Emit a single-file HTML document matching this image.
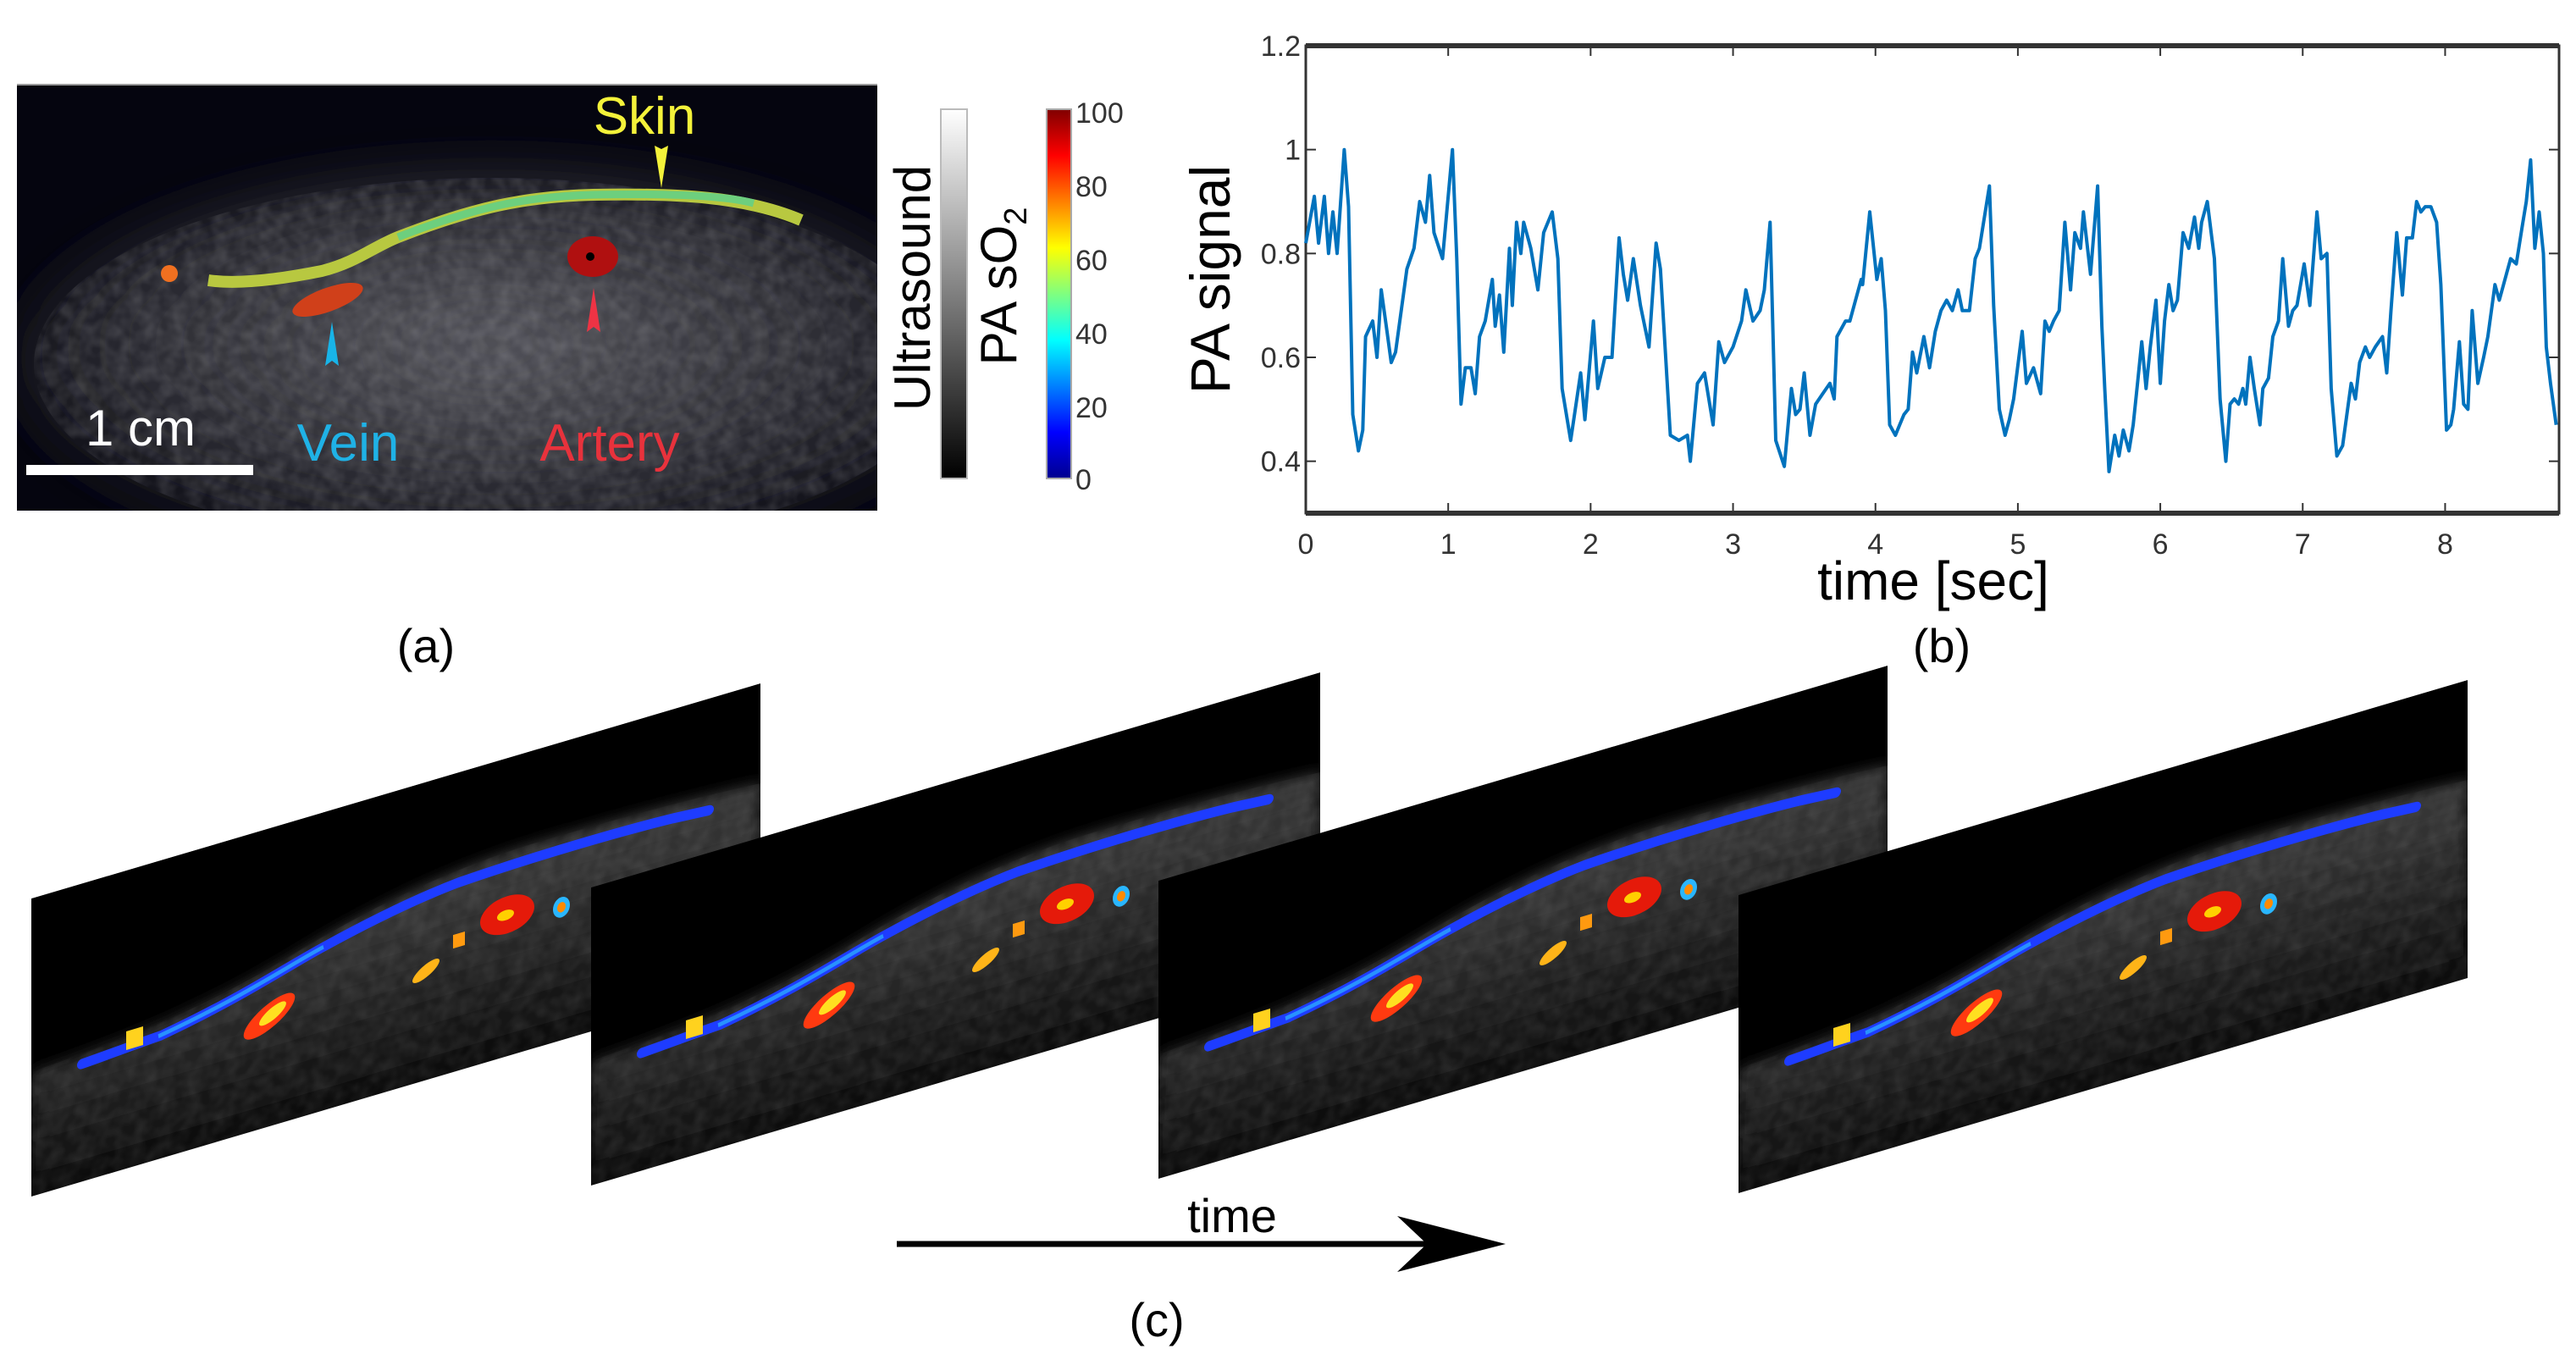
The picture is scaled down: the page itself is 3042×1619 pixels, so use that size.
<!DOCTYPE html>
<html><head><meta charset="utf-8">
<style>
html,body{margin:0;padding:0;background:#fff;}
svg{display:block;}
text{font-family:"Liberation Sans",sans-serif;}
.tick{font-family:"Liberation Sans Narrow","Liberation Sans",sans-serif;font-size:34px;fill:#333;}
</style></head>
<body>
<svg id="fig" width="3042" height="1619" viewBox="0 0 3042 1619" xmlns="http://www.w3.org/2000/svg">
<defs>
  <linearGradient id="usGrad" x1="0" y1="0" x2="0" y2="1">
    <stop offset="0" stop-color="#fff"/><stop offset="1" stop-color="#000"/>
  </linearGradient>
  <linearGradient id="jetGrad" x1="0" y1="1" x2="0" y2="0">
    <stop offset="0" stop-color="#00008f"/><stop offset="0.125" stop-color="#0000ff"/>
    <stop offset="0.375" stop-color="#00ffff"/><stop offset="0.625" stop-color="#ffff00"/>
    <stop offset="0.875" stop-color="#ff0000"/><stop offset="1" stop-color="#800000"/>
  </linearGradient>
  <radialGradient id="tissueA" cx="0.5" cy="0.45" r="0.6">
    <stop offset="0" stop-color="#55555c"/><stop offset="0.6" stop-color="#2c2c33"/><stop offset="1" stop-color="#0a0a12"/>
  </radialGradient>
  <linearGradient id="tissueC" x1="0" y1="0" x2="0" y2="1">
    <stop offset="0" stop-color="#3a3a3a"/><stop offset="0.4" stop-color="#2a2a2a"/><stop offset="1" stop-color="#0c0c0c"/>
  </linearGradient>
  <clipPath id="slabClip"><rect x="0" y="0" width="861" height="352"/></clipPath>
  <filter id="blurA" x="-0.2" y="-0.3" width="1.4" height="1.6"><feGaussianBlur stdDeviation="30"/></filter>
  <filter id="blurC" x="-0.1" y="-0.2" width="1.2" height="1.4"><feGaussianBlur stdDeviation="8"/></filter>
  <filter id="speck" x="0" y="0" width="1" height="1">
    <feTurbulence type="fractalNoise" baseFrequency="0.06" numOctaves="2" seed="3"/>
    <feColorMatrix type="matrix" values="0 0 0 0 1  0 0 0 0 1  0 0 0 0 1  0 0 0 0.9 -0.25"/>
    <feComposite in2="SourceGraphic" operator="in"/>
  </filter>
  <g id="slab" clip-path="url(#slabClip)">
    <rect x="0" y="0" width="861" height="352" fill="#000"/>
    <path d="M0,205 C100,200 200,190 300,160 C400,128 500,110 600,110 C700,110 780,112 861,118 L861,352 L0,352 Z" fill="url(#tissueC)" filter="url(#blurC)"/>
    <path d="M0,205 C100,200 200,190 300,160 C400,128 500,110 600,110 C700,110 780,112 861,118 L861,352 L0,352 Z" fill="#fff" filter="url(#speck)" opacity="0.15"/>
    <path d="M60,213 C110,210 130,208 153,207 C250,190 300,170 345,159 C420,140 470,133 504,130 C600,125 700,126 759,129 L800,132" fill="none" stroke="#1e3cff" stroke-width="12" stroke-linecap="round"/>
    <path d="M150,207 C250,190 300,170 345,159" fill="none" stroke="#2aa8ff" stroke-width="5" opacity="0.8"/>
    <rect x="112" y="190" width="20" height="22" fill="#ffd21e"/>
    <ellipse cx="281" cy="222" rx="34" ry="14" fill="#ff3a10" transform="rotate(-30 281 222)"/>
    <ellipse cx="285" cy="220" rx="18" ry="7" fill="#ffe020" transform="rotate(-30 285 220)"/>
    <ellipse cx="562" cy="185" rx="32" ry="22" fill="#e51a0a"/>
    <ellipse cx="560" cy="185" rx="10" ry="6" fill="#ffd000"/>
    <ellipse cx="626" cy="195" rx="10" ry="12" fill="#29b6ff"/>
    <ellipse cx="626" cy="195" rx="5" ry="6" fill="#ff8a00"/>
    <rect x="498" y="190" width="14" height="16" fill="#ff9a10"/>
    <ellipse cx="466" cy="223" rx="18" ry="7" fill="#ffb418" transform="rotate(-30 466 223)"/>
  </g>
</defs>

<!-- Panel (a) -->
<g>
  <rect x="20" y="100" width="1016" height="503" fill="#05050f"/>
  <line x1="20" y1="100" x2="1036" y2="100" stroke="#999" stroke-width="2"/>
  <svg x="20" y="100" width="1016" height="503" overflow="hidden">
    <ellipse cx="560" cy="330" rx="560" ry="230" fill="url(#tissueA)" filter="url(#blurA)"/>
    <ellipse cx="560" cy="330" rx="540" ry="220" fill="#fff" filter="url(#speck)" opacity="0.25"/>
  </svg>
  <path d="M246,331 C280,336 330,330 380,320 C420,310 440,292 470,280 C560,245 620,232 700,230 C800,228 880,232 946,260" fill="none" stroke="#b8c840" stroke-width="14" stroke-linejoin="round"/>
  <path d="M470,280 C560,245 620,232 700,230 C800,228 860,232 890,240" fill="none" stroke="#5fd08a" stroke-width="9" opacity="0.85"/>
  <ellipse cx="700" cy="303" rx="30" ry="24" fill="#b01010"/>
  <circle cx="697" cy="303" r="5" fill="#000"/>
  <ellipse cx="387" cy="354" rx="44" ry="14" fill="#d0401a" transform="rotate(-20 387 354)"/>
  <circle cx="200" cy="323" r="10" fill="#f07020"/>
  <text x="761" y="158" font-size="62" fill="#f4f23a" text-anchor="middle">Skin</text>
  <polygon points="773,172 781,176 789,172 781,222" fill="#f4f23a"/>
  <polygon points="693,392 701,386 709,392 701,340" fill="#ee3344"/>
  <polygon points="384,432 392,426 400,432 392,380" fill="#18b4e8"/>
  <text x="166" y="526" font-size="60" fill="#fff" text-anchor="middle">1 cm</text>
  <rect x="31" y="549" width="268" height="12" fill="#fff"/>
  <text x="411" y="544" font-size="62" fill="#1fb2e6" text-anchor="middle">Vein</text>
  <text x="720" y="544" font-size="62" fill="#e8323c" text-anchor="middle">Artery</text>
  <rect x="1111" y="129" width="31" height="436" fill="url(#usGrad)" stroke="#bbb" stroke-width="2"/>
  <text transform="translate(1098,340) rotate(-90)" font-size="60" fill="#000" text-anchor="middle">Ultrasound</text>
  <text transform="translate(1200,338) rotate(-90)" font-size="60" fill="#000" text-anchor="middle">PA sO<tspan font-size="38" dy="12">2</tspan></text>
  <rect x="1236" y="129" width="29" height="436" fill="url(#jetGrad)" stroke="#aaa" stroke-width="2"/>
  <g class="tick">
    <text x="1270" y="145">100</text><text x="1270" y="232">80</text><text x="1270" y="319">60</text>
    <text x="1270" y="406">40</text><text x="1270" y="493">20</text><text x="1270" y="578">0</text>
  </g>
  <text x="503" y="782" font-size="56" fill="#000" text-anchor="middle">(a)</text>
</g>

<!-- Panel (b) chart -->
<g id="chart">
  <text transform="translate(1452,330) rotate(-90)" font-size="66" fill="#000" text-anchor="middle">PA signal</text>
  <text x="2283" y="708" font-size="64" fill="#000" text-anchor="middle">time [sec]</text>
  <text x="2293" y="782" font-size="56" fill="#000" text-anchor="middle">(b)</text>
</g>

<!-- Panel (c) -->
<g>
  <use href="#slab" transform="matrix(1,-0.295,0,1,37,1061)"/>
  <use href="#slab" transform="matrix(1,-0.295,0,1,698,1048)"/>
  <use href="#slab" transform="matrix(1,-0.295,0,1,1368,1040)"/>
  <use href="#slab" transform="matrix(1,-0.295,0,1,2053,1057)"/>
  <line x1="1059" y1="1469" x2="1700" y2="1469" stroke="#000" stroke-width="7"/>
  <polygon points="1650,1436 1778,1469 1650,1502 1685,1469" fill="#000"/>
  <text x="1455" y="1455" font-size="56" fill="#000" text-anchor="middle">time</text>
  <text x="1366" y="1578" font-size="56" fill="#000" text-anchor="middle">(c)</text>
</g>
</svg>
<script>
const times = [0.00,0.06,0.09,0.13,0.16,0.19,0.22,0.27,0.30,0.33,0.37,0.40,0.42,0.47,0.50,0.53,0.57,0.60,0.63,0.68,0.71,0.76,0.80,0.84,0.87,0.90,0.96,1.03,1.06,1.09,1.12,1.16,1.19,1.22,1.26,1.31,1.33,1.36,1.39,1.43,1.45,1.48,1.51,1.53,1.58,1.63,1.67,1.73,1.77,1.80,1.86,1.93,1.96,2.02,2.05,2.10,2.15,2.20,2.23,2.26,2.30,2.35,2.41,2.46,2.49,2.56,2.62,2.68,2.70,2.75,2.80,2.86,2.90,2.94,3.00,3.06,3.09,3.14,3.19,3.22,3.26,3.30,3.36,3.41,3.44,3.47,3.50,3.54,3.58,3.63,3.68,3.71,3.73,3.79,3.82,3.86,3.90,3.91,3.96,4.01,4.04,4.07,4.10,4.14,4.17,4.20,4.23,4.26,4.29,4.34,4.38,4.42,4.46,4.50,4.54,4.58,4.61,4.66,4.70,4.73,4.80,4.83,4.87,4.91,4.94,4.97,5.03,5.06,5.11,5.16,5.19,5.22,5.25,5.29,5.33,5.37,5.40,5.44,5.46,5.51,5.56,5.59,5.61,5.64,5.68,5.71,5.74,5.78,5.81,5.84,5.87,5.90,5.93,5.97,6.00,6.03,6.06,6.09,6.12,6.16,6.20,6.24,6.27,6.29,6.33,6.38,6.42,6.46,6.49,6.52,6.55,6.58,6.60,6.63,6.66,6.70,6.72,6.76,6.79,6.83,6.86,6.90,6.93,6.96,7.01,7.05,7.10,7.13,7.17,7.20,7.24,7.28,7.32,7.34,7.37,7.40,7.44,7.47,7.51,7.56,7.59,7.62,7.66,7.70,7.73,7.77,7.80,7.83,7.86,7.90,7.94,7.97,8.01,8.04,8.06,8.10,8.13,8.16,8.19,8.23,8.27,8.30,8.35,8.38,8.42,8.46,8.50,8.54,8.57,8.60,8.63,8.66,8.69,8.71,8.74,8.78];
const signal = [0.82,0.91,0.82,0.91,0.80,0.88,0.80,1.00,0.89,0.49,0.42,0.46,0.64,0.67,0.60,0.73,0.65,0.59,0.61,0.71,0.77,0.81,0.90,0.86,0.95,0.84,0.79,1.00,0.79,0.51,0.58,0.58,0.53,0.64,0.67,0.75,0.66,0.72,0.61,0.81,0.70,0.86,0.80,0.86,0.81,0.73,0.84,0.88,0.79,0.54,0.44,0.57,0.48,0.67,0.54,0.60,0.60,0.83,0.76,0.71,0.79,0.70,0.62,0.82,0.77,0.45,0.44,0.45,0.40,0.55,0.57,0.47,0.63,0.59,0.62,0.67,0.73,0.67,0.69,0.73,0.86,0.44,0.39,0.54,0.49,0.50,0.57,0.45,0.51,0.53,0.55,0.52,0.64,0.67,0.67,0.71,0.75,0.74,0.88,0.75,0.79,0.69,0.47,0.45,0.47,0.49,0.50,0.61,0.57,0.64,0.58,0.65,0.69,0.71,0.69,0.73,0.69,0.69,0.79,0.81,0.93,0.70,0.50,0.45,0.48,0.52,0.65,0.55,0.58,0.53,0.67,0.65,0.67,0.69,0.86,0.73,0.84,0.81,0.88,0.76,0.93,0.66,0.54,0.38,0.45,0.41,0.46,0.42,0.47,0.55,0.63,0.54,0.62,0.71,0.55,0.67,0.74,0.69,0.71,0.84,0.81,0.87,0.81,0.86,0.90,0.79,0.52,0.40,0.51,0.52,0.51,0.54,0.51,0.60,0.54,0.47,0.54,0.56,0.64,0.67,0.79,0.66,0.69,0.70,0.78,0.70,0.88,0.79,0.80,0.54,0.41,0.43,0.51,0.55,0.52,0.59,0.62,0.60,0.62,0.64,0.57,0.69,0.84,0.72,0.83,0.83,0.90,0.88,0.89,0.89,0.86,0.74,0.46,0.47,0.50,0.63,0.51,0.50,0.69,0.55,0.60,0.64,0.74,0.71,0.75,0.79,0.78,0.85,0.90,0.98,0.81,0.88,0.80,0.62,0.55,0.47];
const xTicks = [0,1,2,3,4,5,6,7,8];
const yTicks = [0.4,0.6,0.8,1,1.2];
const xTickLabels = ["0","1","2","3","4","5","6","7","8"];
const yTickLabels = ["0.4","0.6","0.8","1","1.2"];
const xDomain = [0, 8.8];
const yDomain = [0.3, 1.2];

const NS = "http://www.w3.org/2000/svg";
const L = 1542, R = 3022, T = 54, B = 606;
function xs(v){ return L + (v - xDomain[0]) / (xDomain[1] - xDomain[0]) * (R - L); }
function ys(v){ return B - (v - yDomain[0]) / (yDomain[1] - yDomain[0]) * (B - T); }
const chart = document.getElementById("chart");
function mk(tag, attrs){ const e = document.createElementNS(NS, tag); for (const k in attrs) e.setAttribute(k, attrs[k]); chart.appendChild(e); return e; }

const box = mk("rect", {x:L, y:T, width:R-L, height:B-T, fill:"none", stroke:"#333", "stroke-width":3});


mk("line", {x1:L, y1:T, x2:R, y2:T, stroke:"#333", "stroke-width":6});
mk("line", {x1:L, y1:B, x2:R, y2:B, stroke:"#333", "stroke-width":6});

xTicks.forEach((t, i) => {
  const x = xs(t);
  mk("line", {x1:x, y1:B, x2:x, y2:B-12, stroke:"#333", "stroke-width":2});
  mk("line", {x1:x, y1:T, x2:x, y2:T+12, stroke:"#333", "stroke-width":2});
  const lab = mk("text", {x:x, y:B+48, "text-anchor":"middle", class:"tick"});
  lab.textContent = xTickLabels[i];
  
  
});
yTicks.forEach((v, i) => {
  const y = ys(v);
  mk("line", {x1:L, y1:y, x2:L+12, y2:y, stroke:"#333", "stroke-width":2});
  mk("line", {x1:R, y1:y, x2:R-12, y2:y, stroke:"#333", "stroke-width":2});
  const lab = mk("text", {x:L-6, y:y+12, "text-anchor":"end", class:"tick"});
  lab.textContent = yTickLabels[i];
  
  
});

const pts = times.map((t, i) => xs(t).toFixed(1) + "," + ys(signal[i]).toFixed(1)).join(" ");
const line = mk("polyline", {points:pts, fill:"none", stroke:"#0072bd", "stroke-width":4, "stroke-linejoin":"round"});


</script>
</body></html>
